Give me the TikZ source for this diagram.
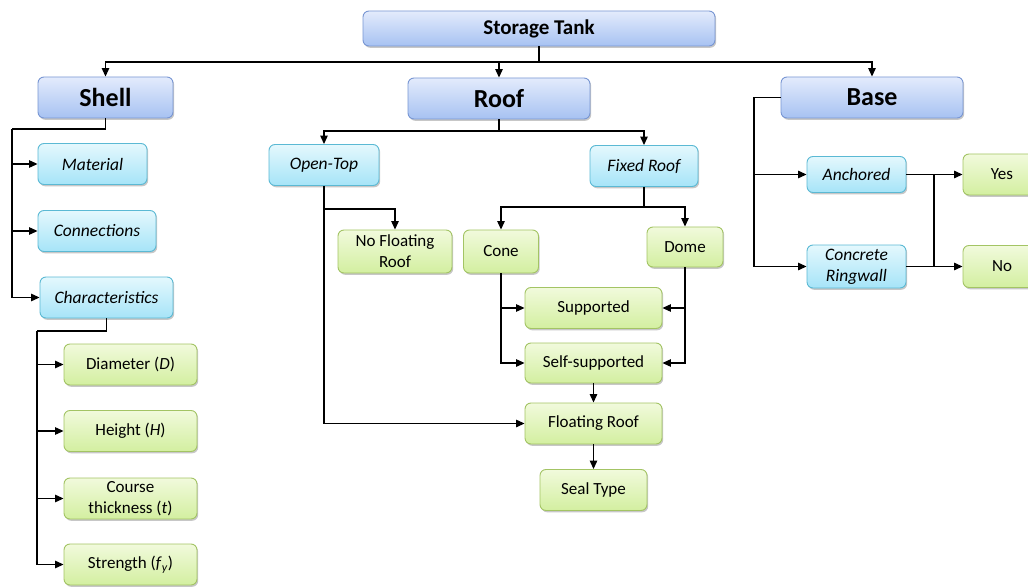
\documentclass[tikz,border=0pt]{standalone}
\usepackage{fontspec}
\setmainfont{Carlito}
\usetikzlibrary{arrows.meta,shadows}

\definecolor{blueTop}{HTML}{E3EBFC}
\definecolor{blueBot}{HTML}{A7C2F2}
\definecolor{blueLine}{HTML}{7896D3}
\definecolor{cyanTop}{HTML}{E4F8FD}
\definecolor{cyanBot}{HTML}{A6E4F8}
\definecolor{cyanLine}{HTML}{5BB9D4}
\definecolor{greenTop}{HTML}{F1FADC}
\definecolor{greenBot}{HTML}{D3EFA0}
\definecolor{greenLine}{HTML}{A3C464}

\tikzset{
  box/.style={draw, rounded corners=6pt, line width=0.9pt, align=center,
    inner sep=2pt, minimum height=41pt,
    drop shadow={shadow xshift=1.2pt, shadow yshift=-1.8pt, opacity=0.22, fill=black}},
  topbox/.style={box, draw=blueLine, top color=blueTop, bottom color=blueBot,
    minimum height=35pt, font=\bfseries\fontsize{21}{24}\selectfont},
  mainbox/.style={box, draw=blueLine, top color=blueTop, bottom color=blueBot,
    font=\bfseries\fontsize{26}{28}\selectfont},
  subbox/.style={box, draw=cyanLine, top color=cyanTop, bottom color=cyanBot,
    font=\itshape\fontsize{17.5}{21}\selectfont},
  leafbox/.style={box, draw=greenLine, top color=greenTop, bottom color=greenBot,
    font=\fontsize{17}{21}\selectfont},
  link/.style={line width=1.2pt, black},
  >={Triangle[length=8.5pt,width=7.5pt]}
}

\begin{document}
\begin{tikzpicture}[x=1pt,y=-1pt]
  \useasboundingbox (0,0) rectangle (1028,588);

  % top level
  \node[topbox, minimum width=352pt] (tank) at (539,28.5) {Storage Tank};
  \node[mainbox, minimum width=135pt] (shell) at (105.5,97.5) {Shell};
  \node[mainbox, minimum width=182pt] (roof) at (499,98.5) {Roof};
  \node[mainbox, minimum width=182pt] (base) at (872,97.5) {Base};

  % shell
  \node[subbox, minimum width=109pt] (mat) at (92.5,164) {Material};
  \node[subbox, minimum width=118pt] (conn) at (97,231) {Connections};
  \node[subbox, minimum width=133pt] (char) at (106.5,297.5) {Characteristics};
  \node[leafbox, minimum width=133pt] (diam) at (130.5,364.5) {Diameter (\textit{D})};
  \node[leafbox, minimum width=133pt] (hgt) at (130.5,431) {Height (\textit{H})};
  \node[leafbox, minimum width=133pt] (crs) at (130.5,498.5) {Course\\thickness (\textit{t})};
  \node[leafbox, minimum width=133pt] (str) at (130.5,564.5) {Strength (\textit{f}\textsubscript{\textit{y}})};

  % roof
  \node[subbox, minimum width=110pt] (open) at (324,165) {Open-Top};
  \node[subbox, minimum width=108pt] (fixed) at (644,166) {Fixed Roof};
  \node[leafbox, minimum width=114pt, minimum height=43pt] (nofl) at (395,251.5) {No Floating\\Roof};
  \node[leafbox, minimum width=75pt, minimum height=43pt] (cone) at (501,251.5) {Cone};
  \node[leafbox, minimum width=76pt, minimum height=40pt] (dome) at (685,247) {Dome};
  \node[leafbox, minimum width=137pt] (supp) at (593.5,308) {Supported};
  \node[leafbox, minimum width=137pt, minimum height=40pt] (self) at (593.5,363) {Self-supported};
  \node[leafbox, minimum width=137pt] (flt) at (593.5,423.5) {Floating Roof};
  \node[leafbox, minimum width=107pt] (seal) at (593.5,490) {Seal Type};

  % base
  \node[subbox, minimum width=99pt, minimum height=36pt] (anch) at (856.5,174.5) {Anchored};
  \node[subbox, minimum width=99pt, minimum height=43pt] (ring) at (856.5,266.5) {Concrete\\Ringwall};
  \node[leafbox, minimum width=78pt] (yes) at (1002,174.5) {Yes};
  \node[leafbox, minimum width=78pt, minimum height=42pt] (no) at (1002,266.5) {No};

  % connectors
  \coordinate (tkbus) at (539,62);
  \draw[link] (tank.south) -- (tkbus);
  \draw[link,->] (tkbus) -| (shell.north);
  \draw[link,->] (tkbus) -| (base.north);
  \draw[link,->] (roof.north |- tkbus) -- (roof.north);

  \coordinate (shbus) at (12,129);
  \draw[link] (shell.south) |- (shbus);
  \draw[link,->] (shbus) |- (char.west);
  \draw[link,->] (shbus |- mat.west) -- (mat.west);
  \draw[link,->] (shbus |- conn.west) -- (conn.west);

  \coordinate (chbus) at (37,331);
  \draw[link] (char.south) |- (chbus);
  \draw[link,->] (chbus) |- (str.west);
  \draw[link,->] (chbus |- diam.west) -- (diam.west);
  \draw[link,->] (chbus |- hgt.west) -- (hgt.west);
  \draw[link,->] (chbus |- crs.west) -- (crs.west);

  \coordinate (rfbus) at (499,131);
  \draw[link] (roof.south) -- (rfbus);
  \draw[link,->] (rfbus) -| (open.north);
  \draw[link,->] (rfbus) -| (fixed.north);

  \coordinate (opbus) at (324,209);
  \draw[link,->] (open.south) |- (flt.west);
  \draw[link,->] (opbus) -| (nofl.north);

  \coordinate (fxbus) at (644,207);
  \draw[link] (fixed.south) -- (fxbus);
  \draw[link,->] (fxbus) -| (cone.north);
  \draw[link,->] (fxbus) -| (dome.north);

  \draw[link,->] (cone.south) |- (self.west);
  \draw[link,->] (cone.south |- supp.west) -- (supp.west);
  \draw[link,->] (dome.south) |- (self.east);
  \draw[link,->] (dome.south |- supp.east) -- (supp.east);
  \draw[link,->] (self) -- (flt);
  \draw[link,->] (flt) -- (seal);

  \coordinate (bsbus) at (754,97.5);
  \draw[link,->] (base.west) -- (bsbus) |- (ring.west);
  \draw[link,->] (bsbus |- anch.west) -- (anch.west);

  \coordinate (ynbus) at (934,174.5);
  \draw[link,->] (anch.east) -- (yes.west);
  \draw[link,->] (ring.east) -- (no.west);
  \draw[link] (ynbus) -- (ynbus |- ring.east);
\end{tikzpicture}
\end{document}
